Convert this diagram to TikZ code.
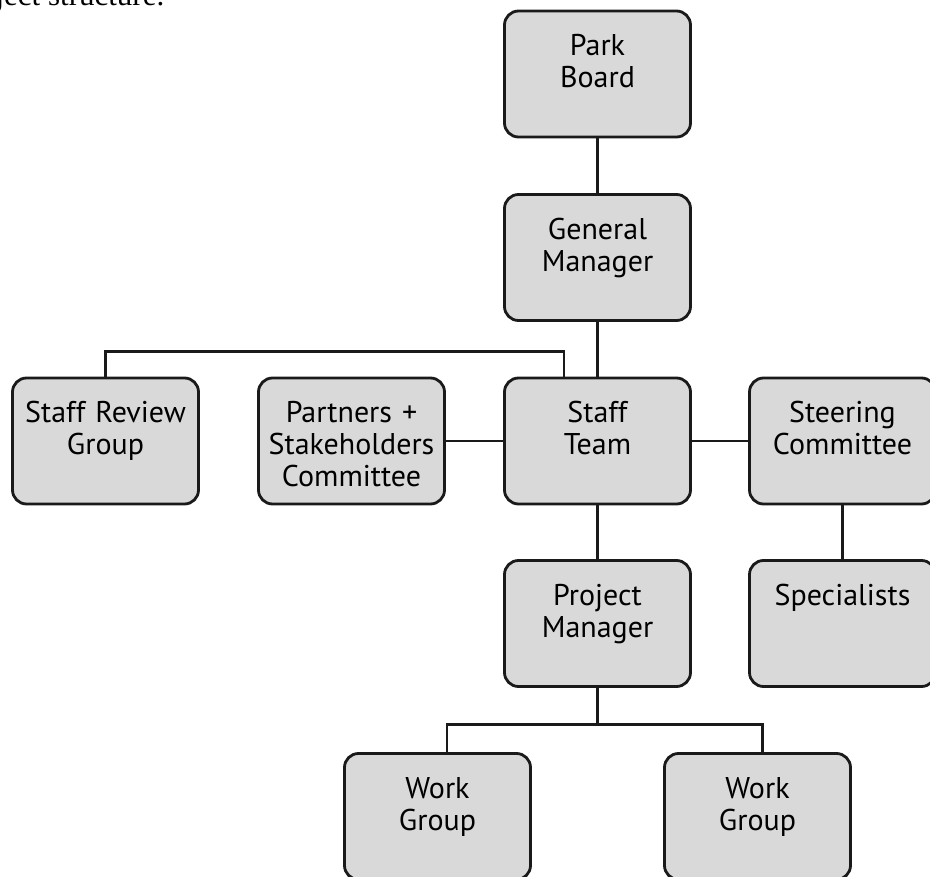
\documentclass[tikz,border=0pt]{standalone}
\usepackage{fontspec}
\usepackage{tikz}
\newfontfamily\orgfont{PT Sans}
\newfontfamily\capfont{Liberation Serif}
\definecolor{boxgray}{HTML}{D9D9D9}
\definecolor{linegray}{HTML}{1A1A1A}

\begin{document}
\begin{tikzpicture}[x=1pt, y=-1pt, line width=2.8pt, draw=linegray,
    orgbox/.style={draw=linegray, fill=boxgray, rounded corners=14pt,
        minimum width=186pt, minimum height=126pt, inner sep=0pt,
        text width=186pt, text height=45pt, text depth=81pt, align=center,
        font=\orgfont\fontsize{30}{32}\selectfont}]
            \path[use as bounding box, clip] (0, 0) rectangle (930, 877);
            \node[anchor=base east, font=\capfont\fontsize{31}{36}\selectfont] (cap) at (169, 6) {ject structure.};
            \node[orgbox] (00) at (597.5, 74) {Park\\Board};
            \node[orgbox] (10) at (597.5, 257.5) {General\\Manager};
            \node[orgbox] (20) at (105.5, 441) {Staff Review\\Group};
            \node[orgbox] (21) at (351.5, 441) {Partners +\\Stakeholders\\Committee};
            \node[orgbox] (22) at (597.5, 441) {Staff\\Team};
            \node[orgbox] (23) at (842.5, 441) {Steering\\Committee};
            \node[orgbox] (32) at (597.5, 623.5) {Project\\Manager};
            \node[orgbox] (33) at (842.5, 623.5) {Specialists};
            \node[orgbox] (41) at (437.5, 816.5) {Work\\Group};
            \node[orgbox] (42) at (757.5, 816.5) {Work\\Group};
            % branch points of the elbow lines
            \coordinate (j2) at (564, 351.5);
            \coordinate (j3) at (597.5, 724.5);
            \draw (00) -- (10);
            \draw (10) -- (22);
            \draw (20.north) |- (j2) -- (j2 |- 22.north);
            \draw (21) -- (22);
            \draw (22) -- (23);
            \draw (22) -- (32);
            \draw (23) -- (33);
            \draw (32) -- (j3);
            \draw ([xshift=9.5]41.north) |- (j3) -| ([xshift=5]42.north);
        \end{tikzpicture}
\end{document}
